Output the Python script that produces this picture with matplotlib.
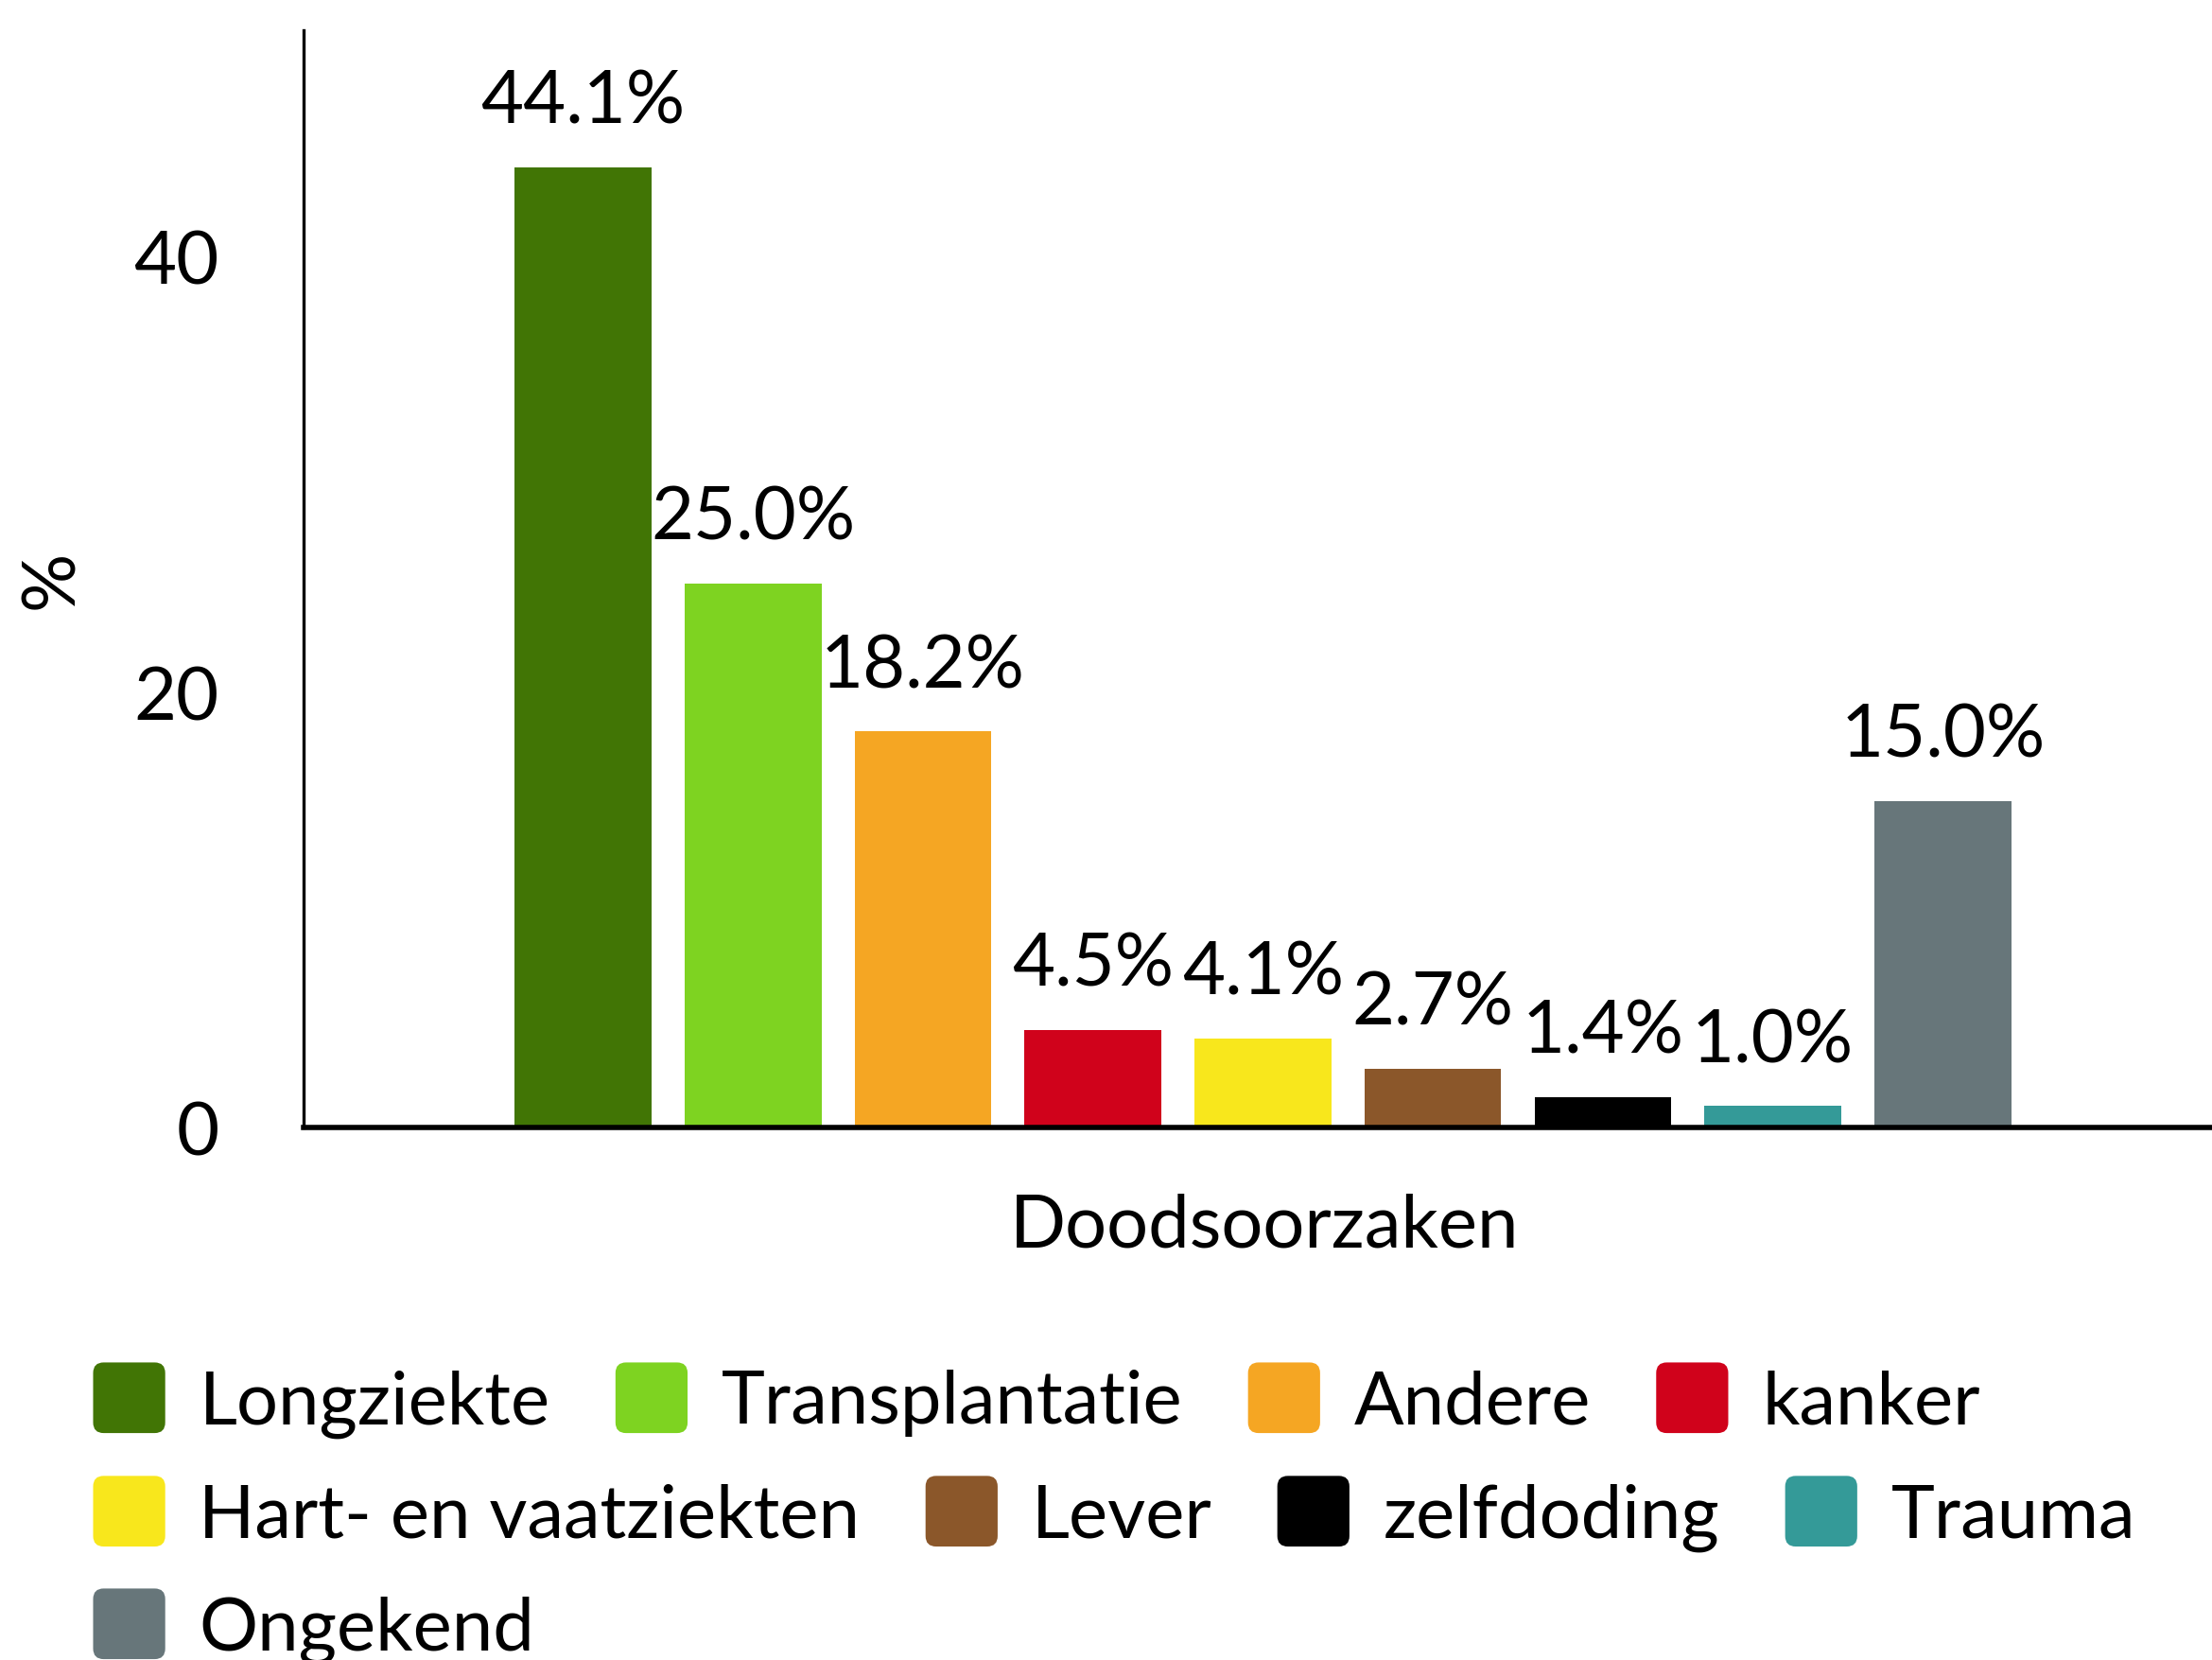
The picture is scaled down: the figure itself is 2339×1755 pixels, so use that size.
import matplotlib
matplotlib.use("Agg")
from matplotlib import pyplot as plt
from matplotlib.patches import FancyBboxPatch
from matplotlib.legend_handler import HandlerPatch
import numpy as np

plt.rcParams['font.family'] = ['Lato', 'DejaVu Sans']
plt.rcParams['font.size'] = 28

# data
causes = ['Longziekte', 'Transplantatie', 'Andere', 'kanker',
          'Hart- en vaatziekten', 'Lever', 'zelfdoding', 'Trauma', 'Ongekend']
values = [44.1, 25.0, 18.2, 4.5, 4.1, 2.7, 1.4, 1.0, 15.0]
colors = ['#417505', '#7ED321', '#F5A623', '#D0021B', '#F8E71C',
          '#8B572A', '#000000', '#349A98', '#67767A']
legend_rows = [[0, 1, 2, 3], [4, 5, 6, 7], [8]]

fig = plt.figure(figsize=(11.695, 8.78), dpi=200)
ax = fig.add_axes([0.1371, 0.3204, 0.8629, 0.6608])

x = np.arange(len(values))
bars = ax.bar(x, values, width=0.805, color=colors)
ax.bar_label(bars, labels=[f'{v:.1f}%' for v in values], padding=12)

ax.set_xlim(-1.646, 9.584)
ax.set_ylim(0, 50.4)
ax.set_yticks([0, 20, 40])
ax.set_xticks([])
ax.tick_params(axis='y', length=0, pad=32)
for s in ['top', 'right']:
    ax.spines[s].set_visible(False)
ax.spines['left'].set_linewidth(1.2)
ax.spines['bottom'].set_linewidth(2.0)

ax.set_ylabel('%')
ax.yaxis.set_label_coords(-0.1135, 0.5)
ax.set_xlabel('Doodsoorzaken')
ax.xaxis.set_label_coords(0.5035, -0.0585)


def rounded(legend, orig_handle, xdescent, ydescent, width, height, fontsize):
    return FancyBboxPatch((-xdescent, -ydescent), width, height,
                          boxstyle='round,pad=0,rounding_size=4')


handler = HandlerPatch(patch_func=rounded)
row_y = [0.1566, 0.0883, 0.0205]
for row, yy in zip(legend_rows, row_y):
    handles = [bars[i] for i in row]
    labels = [causes[i] for i in row]
    fig.legend(handles, labels, loc='center left', bbox_to_anchor=(0.0421, yy),
               ncol=4, frameon=False, borderpad=0, borderaxespad=0,
               handlelength=0.98, handleheight=1.1, handletextpad=0.46,
               columnspacing=0.89, handler_map={type(bars[0]): handler})

fig.savefig('out.png', dpi=200)
